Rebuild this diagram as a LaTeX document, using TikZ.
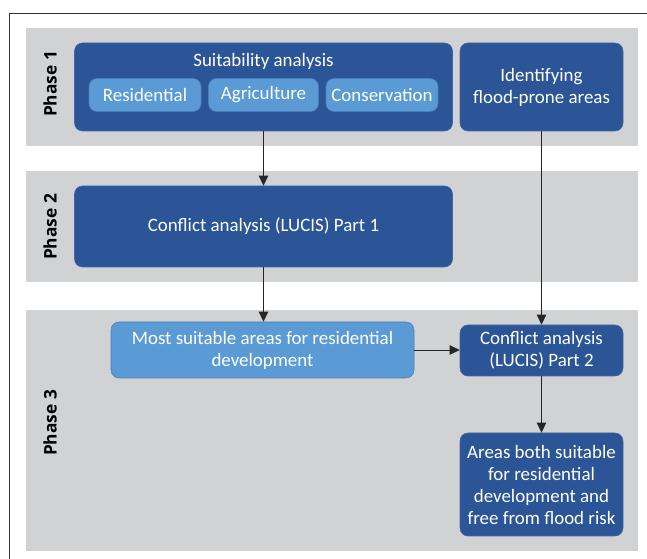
\documentclass[tikz,border=0pt]{standalone}
\usepackage{fontspec}
\setmainfont{Carlito}
\newfontfamily\phasefont{Open Sans}
\usetikzlibrary{arrows.meta}

\definecolor{darkbox}{HTML}{2B5597}
\definecolor{darkedge}{HTML}{3E68A8}
\definecolor{lightbox}{HTML}{5B9BD5}
\definecolor{lightedge}{HTML}{4A7EBB}
\definecolor{band}{HTML}{D1D2D4}

\tikzset{
  boxfont/.style={font=\fontsize{14.2}{16.5}\selectfont},
  darkstep/.style={draw=darkedge, fill=darkbox, rounded corners=6pt, text=white,
    align=center, inner sep=0pt, boxfont},
  lightstep/.style={draw=lightedge, fill=lightbox, rounded corners=6pt, text=white,
    align=center, inner sep=0pt, boxfont},
  phaselabel/.style={rotate=90, font=\phasefont\bfseries\fontsize{13}{14}\selectfont},
  flow/.style={-{Triangle[length=7.5pt,width=7pt]}, line width=0.6pt, black!85}
}

\begin{document}
\begin{tikzpicture}[x=0.75pt, y=-0.75pt]
        \useasboundingbox (0,0) rectangle (647,559);
        % frame and phase bands
        \draw[black!80, line width=0.6pt] (9.5,13.5) rectangle (680,600);
        \fill[band] (25.5,28) rectangle (638,146);
        \fill[band] (25.5,171) rectangle (638,282);
        \fill[band] (25.5,310) rectangle (638,551);
        \node[phaselabel] (p1) at (50,84) {Phase 1};
        \node[phaselabel] (p2) at (50,227) {Phase 2};
        \node[phaselabel] (p3) at (50,423) {Phase 3};
        % phase 1
        \node[darkstep, minimum width=283.5pt, minimum height=66pt] (suit) at (263.5,87) {};
        \node[text=white, boxfont] (suittitle) at (263.5,61) {Suitability analysis};
        \node[lightstep, minimum width=84pt, minimum height=24.75pt] (res) at (145,95) {Residential};
        \node[lightstep, minimum width=82.5pt, minimum height=24.75pt] (agr) at (263.5,95) {Agriculture};
        \node[lightstep, minimum width=84pt, minimum height=24.75pt] (con) at (382,95) {Conservation};
        \node[darkstep, minimum width=122.25pt, minimum height=66pt] (flood) at (541.5,87) {Identifying\\flood-prone areas};
        % phase 2
        \node[darkstep, minimum width=283.5pt, minimum height=60.75pt] (conf1) at (263.5,226.5) {Conflict analysis (LUCIS) Part 1};
        % phase 3
        \node[lightstep, minimum width=227.25pt, minimum height=42pt] (most) at (262.5,350) {Most suitable areas for residential\\development};
        \node[darkstep, minimum width=122.25pt, minimum height=38.25pt] (conf2) at (541.5,350.5) {Conflict analysis\\(LUCIS) Part 2};
        \node[darkstep, minimum width=122.25pt, minimum height=77.25pt] (areas) at (541.5,484.5) {Areas both suitable\\for residential\\development and\\free from flood risk};
        \draw[flow] (suit.south -| conf1.north) -- (conf1.north);
        \draw[flow] (conf1.south) -- (most.north -| conf1.south);
        \draw[flow] (flood) -- (conf2);
        \draw[flow] (most.east) -- (most.east -| conf2.west);
        \draw[flow] (conf2) -- (areas);
      \end{tikzpicture}
\end{document}
